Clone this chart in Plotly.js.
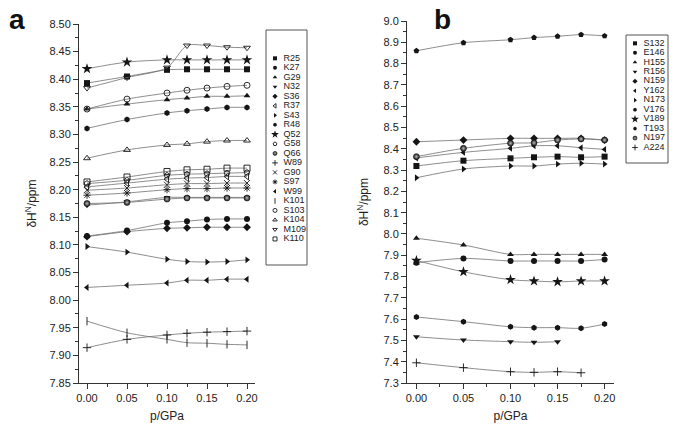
<!DOCTYPE html>
<html><head><meta charset="utf-8">
<script src="https://cdn.plot.ly/plotly-3.0.1.min.js"></script>
<style>html,body{margin:0;padding:0;background:#fff}#chart{width:685px;height:440px}</style>
</head><body><div id="chart"></div>
<script>
// pressure points (GPa)
const pressure = [0, 0.05, 0.10, 0.125, 0.15, 0.175, 0.20];

// panel a : chemical shifts (ppm)
const R25  = [8.393, 8.405, 8.417, 8.418, 8.418, 8.418, 8.418];
const K27  = [8.116, 8.126, 8.140, 8.143, 8.146, 8.147, 8.147];
const G29  = [8.346, 8.355, 8.363, 8.366, 8.369, 8.369, 8.370];
const N32  = [8.172, 8.178, 8.186, 8.186, 8.186, 8.186, 8.186];
const S36  = [8.115, 8.124, 8.130, 8.131, 8.132, 8.132, 8.132];
const R37  = [8.205, 8.212, 8.219, 8.221, 8.222, 8.224, 8.224];
const S43  = [8.097, 8.087, 8.074, 8.070, 8.069, 8.070, 8.073];
const R48  = [8.311, 8.327, 8.339, 8.343, 8.346, 8.349, 8.349];
const Q52  = [8.419, 8.431, 8.435, 8.435, 8.435, 8.435, 8.435];
const G58  = [8.211, 8.217, 8.226, 8.228, 8.229, 8.230, 8.231];
const Q66  = [8.175, 8.177, 8.183, 8.185, 8.185, 8.185, 8.185];
const W89  = [7.914, 7.929, 7.937, 7.940, 7.942, 7.943, 7.944];
const G90  = [8.199, 8.203, 8.209, 8.211, 8.211, 8.212, 8.212];
const S97  = [8.190, 8.194, 8.200, 8.202, 8.202, 8.203, 8.203];
const W99  = [8.023, 8.027, 8.031, 8.036, 8.036, 8.038, 8.038];
const K101 = [7.962, 7.941, 7.929, 7.923, 7.922, 7.920, 7.919];
const S103 = [8.346, 8.364, 8.375, 8.380, 8.384, 8.387, 8.389];
const K104 = [8.257, 8.272, 8.281, 8.283, 8.287, 8.289, 8.289];
const M109 = [8.384, 8.403, 8.421, 8.461, 8.461, 8.458, 8.457];
const K110 = [8.214, 8.223, 8.233, 8.236, 8.237, 8.239, 8.239];

// panel b : chemical shifts (ppm)
const S132 = [8.319, 8.344, 8.355, 8.360, 8.363, 8.360, 8.363];
const E146 = [7.865, 7.885, 7.873, 7.873, 7.873, 7.873, 7.880];
const H155 = [7.980, 7.948, 7.904, 7.904, 7.904, 7.904, 7.904];
const R156 = [7.517, 7.502, 7.494, 7.491, 7.494, null, null];
const N159 = [8.433, 8.441, 8.449, 8.449, 8.449, 8.449, 8.441];
const Y162 = [8.357, 8.383, 8.402, 8.414, 8.414, 8.405, 8.397];
const N173 = [8.264, 8.305, 8.319, 8.319, 8.328, 8.332, 8.328];
const V176 = [7.610, 7.588, 7.564, 7.560, 7.560, 7.557, 7.577];
const V189 = [7.875, 7.822, 7.785, 7.779, 7.775, 7.779, 7.779];
const T193 = [8.860, 8.898, 8.912, 8.922, 8.928, 8.936, 8.930];
const N197 = [8.363, 8.402, 8.426, 8.428, 8.441, 8.446, 8.441];
const A224 = [7.395, 7.372, 7.353, 7.350, 7.353, 7.348, null];

const namesA = ['R25','K27','G29','N32','S36','R37','S43','R48','Q52','G58','Q66','W89','G90','S97','W99','K101','S103','K104','M109','K110'];
const valuesA = [R25,K27,G29,N32,S36,R37,S43,R48,Q52,G58,Q66,W89,G90,S97,W99,K101,S103,K104,M109,K110];
const namesB = ['S132','E146','H155','R156','N159','Y162','N173','V176','V189','T193','N197','A224'];
const valuesB = [S132,E146,H155,R156,N159,Y162,N173,V176,V189,T193,N197,A224];

// marker styles
const symA = ['square','circle','triangle-up','triangle-down','diamond','triangle-left-open','triangle-right','hexagon','star','pentagon-open','sphere','cross-thin-open','x-thin-open','asterisk-open','triangle-left','line-ns-open','circle-open','triangle-up-open','triangle-down-open','square-open'];
const symB = ['square','circle','triangle-up','triangle-down','diamond','triangle-left','triangle-right','hexagon','star','pentagon','sphere','cross-thin-open'];

const W = 685, H = 440;
const px = v => v / W, py = v => 1 - v / H;
const INK = '#151515', LINE = '#707070';
const FONT = 'Liberation Sans, Arial, sans-serif';

function markerFor(sym, size) {
  const m = {color: INK, size: size, line: {color: INK, width: 0}};
  if (sym === 'sphere') {
    m.symbol = 'circle';
    m.gradient = {type: 'radial', color: '#bbbbbb'};
    m.line = {color: INK, width: 0.6};
  } else {
    m.symbol = sym;
    if (sym.endsWith('-open')) m.line = {color: INK, width: 0.9};
  }
  if (sym.startsWith('star')) m.size = size + 2;
  return m;
}

const traces = [];
function addPanel(names, values, syms, xa, ya, legX, legY) {
  names.forEach((n, i) => {
    traces.push({
      type: 'scatter', mode: 'lines+markers', name: n,
      x: pressure, y: values[i], xaxis: xa, yaxis: ya,
      line: {color: LINE, width: 0.8, shape: 'spline', smoothing: 0.8},
      marker: markerFor(syms[i], 6), connectgaps: false, showlegend: false,
      cliponaxis: false
    });
    // legend symbol
    traces.push({
      type: 'scatter', mode: 'markers', x: [0], y: [i], xaxis: legX, yaxis: legY,
      marker: markerFor(syms[i], 4), showlegend: false, hoverinfo: 'skip'
    });
  });
  // legend names
  traces.push({
    type: 'scatter', mode: 'text', x: names.map(() => 0.85), y: names.map((n, i) => i),
    text: names, textposition: 'middle right', xaxis: legX, yaxis: legY,
    marker: {size: 2},
    textfont: {family: FONT, size: 9, color: '#222'}, showlegend: false, hoverinfo: 'skip'
  });
}
addPanel(namesA, valuesA, symA, 'x', 'y', 'x3', 'y3');
addPanel(namesB, valuesB, symB, 'x2', 'y2', 'x4', 'y4');

const axisCommon = {
  showline: true, linecolor: '#333', linewidth: 1, mirror: false,
  ticks: 'outside', ticklen: 5, tickwidth: 1, tickcolor: '#333',
  showgrid: false, zeroline: false,
  tickfont: {family: FONT, size: 11, color: '#222'}
};
const hidden = {visible: false, showgrid: false, zeroline: false, fixedrange: true};

// legend boxes (pixels): a: x 266-307, y 30-265 ; b: x 626-668, y 35-163
const layout = {
  width: W, height: H, margin: {l: 0, r: 0, t: 0, b: 0},
  paper_bgcolor: '#fff', plot_bgcolor: 'rgba(0,0,0,0)',
  font: {family: FONT, size: 11, color: '#222'},
  showlegend: false,
  xaxis: Object.assign({}, axisCommon, {
    domain: [px(79), px(255)], range: [-0.01, 0.21], anchor: 'y',
    tickmode: 'linear', tick0: 0, dtick: 0.05, tickformat: '.2f',
    minor: {ticks: 'outside', ticklen: 3, dtick: 0.025, tick0: 0, tickcolor: '#333'},
    title: {text: 'p/GPa', font: {family: FONT, size: 12, color: '#222'}, standoff: 8}
  }),
  yaxis: Object.assign({}, axisCommon, {
    domain: [py(383), py(24)], range: [7.85, 8.50], anchor: 'x',
    tickmode: 'linear', tick0: 7.85, dtick: 0.05, tickformat: '.2f',
    minor: {ticks: 'outside', ticklen: 3, dtick: 0.025, tick0: 7.85, tickcolor: '#333'},
    title: {text: 'δH<sup>N</sup>/ppm', font: {family: FONT, size: 12, color: '#222'}, standoff: 10}
  }),
  xaxis2: Object.assign({}, axisCommon, {
    domain: [px(407), px(614)], range: [-0.01, 0.21], anchor: 'y2',
    tickmode: 'linear', tick0: 0, dtick: 0.05, tickformat: '.2f',
    minor: {ticks: 'outside', ticklen: 3, dtick: 0.025, tick0: 0, tickcolor: '#333'},
    title: {text: 'p/GPa', font: {family: FONT, size: 12, color: '#222'}, standoff: 8}
  }),
  yaxis2: Object.assign({}, axisCommon, {
    domain: [py(383), py(21)], range: [7.3, 9.0], anchor: 'x2',
    tickmode: 'linear', tick0: 7.3, dtick: 0.1, tickformat: '.1f',
    minor: {ticks: 'outside', ticklen: 3, dtick: 0.05, tick0: 7.3, tickcolor: '#333'},
    title: {text: 'δH<sup>N</sup>/ppm', font: {family: FONT, size: 12, color: '#222'}, standoff: 12}
  }),
  xaxis3: Object.assign({}, hidden, {domain: [px(266), px(307)], range: [-0.9, 3.2], anchor: 'y3'}),
  yaxis3: Object.assign({}, hidden, {domain: [py(265), py(30)], range: [21.74, -2.98], anchor: 'x3'}),
  xaxis4: Object.assign({}, hidden, {domain: [px(626), px(668)], range: [-0.9, 3.3], anchor: 'y4'}),
  yaxis4: Object.assign({}, hidden, {domain: [py(163), py(35)], range: [12.63, -0.88], anchor: 'x4'}),
  shapes: [
    {type: 'rect', xref: 'paper', yref: 'paper', x0: px(266), x1: px(307), y0: py(265), y1: py(30), line: {color: '#555', width: 1}},
    {type: 'rect', xref: 'paper', yref: 'paper', x0: px(626), x1: px(668), y0: py(163), y1: py(35), line: {color: '#555', width: 1}}
  ],
  annotations: [
    {text: '<b>a</b>', xref: 'paper', yref: 'paper', x: px(7), y: py(2), xanchor: 'left', yanchor: 'top', showarrow: false, font: {family: FONT, size: 28, color: '#111'}},
    {text: '<b>b</b>', xref: 'paper', yref: 'paper', x: px(432), y: py(2), xanchor: 'left', yanchor: 'top', showarrow: false, font: {family: FONT, size: 28, color: '#111'}}
  ]
};

Plotly.newPlot('chart', traces, layout, {staticPlot: true, displayModeBar: false});
</script>
</body></html>
